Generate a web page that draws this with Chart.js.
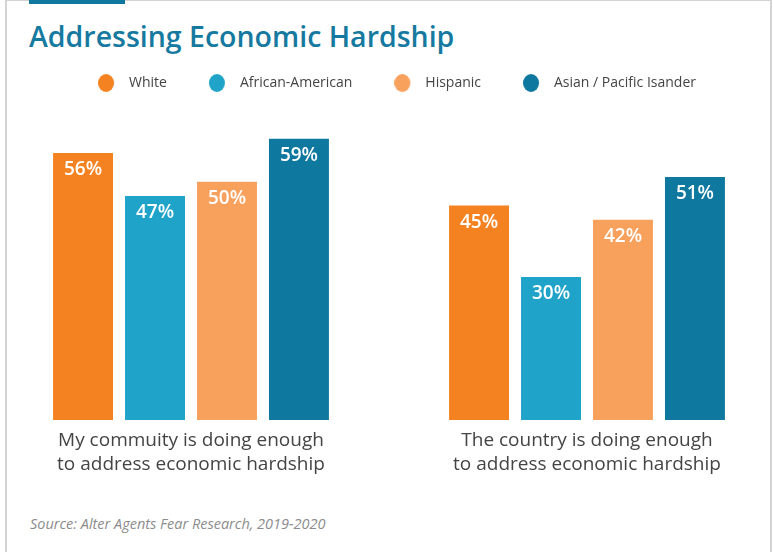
<!DOCTYPE html>
<html>
<head>
<meta charset="utf-8">
<script src="https://cdn.jsdelivr.net/npm/chart.js@4.4.1/dist/chart.umd.min.js"></script>
<style>
  html, body { margin: 0; padding: 0; background: #fff; }
  body { width: 773px; height: 552px; position: relative; overflow: hidden; font-family: 'Open Sans', sans-serif; }
  .frame { position: absolute; left: 5px; top: 0; width: 767px; height: 600px; border: 2px solid #d3d3d3; border-top-width: 1px; box-sizing: border-box; pointer-events: none; z-index: 2; }
  .accent { position: absolute; left: 29px; top: 0; width: 96px; height: 4px; background: #0f789f; z-index: 3; }
  h1 { position: absolute; left: 29px; top: 22px; margin: 0; line-height: 1; font-size: 28.5px; font-weight: 600; color: #16799f; white-space: nowrap; }
  #wrap { position: absolute; left: -7px; top: 0; width: 792px; height: 478px; }
  .source { position: absolute; left: 30px; top: 514px; font-style: italic; font-size: 14.5px; color: #8c8c8c; white-space: nowrap; }
</style>
</head>
<body>
<div class="frame"></div>
<div class="accent"></div>
<h1>Addressing Economic Hardship</h1>
<div id="wrap"><canvas id="hardship" width="792" height="478"></canvas></div>
<div class="source">Source: Alter Agents Fear Research, 2019-2020</div>

<script>
// survey questions (two lines each under the bars)
const questions = [
  ['My commuity is doing enough', 'to address economic hardship'],
  ['The country is doing enough', 'to address economic hardship']
];
const groups = ['White', 'African-American', 'Hispanic', 'Asian / Pacific Isander'];
const groupColors = ['#f58220', '#1fa3c9', '#f8a15d', '#0e789f'];

// % agreeing, per group, one value per question
const white    = [56, 45];
const african  = [47, 30];
const hispanic = [50, 42];
const asian    = [59, 51];

const FONT = "'Open Sans', sans-serif";

// legend dot: circle on the left of a wider transparent box so text sits further right
function dot(color) {
  const c = document.createElement('canvas');
  c.width = 24; c.height = 18;
  const g = c.getContext('2d');
  g.fillStyle = color;
  g.beginPath();
  g.ellipse(8, 9, 8, 9, 0, 0, Math.PI * 2);
  g.fill();
  return c;
}
const dots = groupColors.map(dot);

// extra room under the legend, and nudge it a bit to the right
const legendSpacing = {
  id: 'legendSpacing',
  beforeInit(chart) {
    const fit = chart.legend.fit;
    chart.legend.fit = function () {
      fit.bind(chart.legend)();
      this.height += 34;
    };
  },
  afterLayout(chart) {
    chart.legend.left += 8;
    chart.legend.right += 8;
  }
};

// white % labels just inside the top of each bar
const valueLabels = {
  id: 'valueLabels',
  afterDatasetsDraw(chart) {
    const ctx = chart.ctx;
    ctx.save();
    ctx.fillStyle = '#fff';
    ctx.font = `600 19px ${FONT}`;
    ctx.textAlign = 'center';
    ctx.textBaseline = 'middle';
    chart.data.datasets.forEach((ds, i) => {
      chart.getDatasetMeta(i).data.forEach((bar, j) => {
        ctx.fillText(ds.data[j] + '%', bar.x, bar.y + 17);
      });
    });
    ctx.restore();
  }
};

const series = [white, african, hispanic, asian];

new Chart(document.getElementById('hardship'), {
  type: 'bar',
  data: {
    labels: questions,
    datasets: groups.map((g, i) => ({
      label: g,
      data: series[i],
      backgroundColor: groupColors[i],
      borderWidth: 0,
      categoryPercentage: 0.727,
      barPercentage: 0.833
    }))
  },
  options: {
    responsive: false,
    animation: false,
    layout: { padding: { top: 34, bottom: 0, left: 0, right: 0 } },
    scales: {
      x: {
        grid: { display: false },
        border: { display: false },
        ticks: { color: '#444', font: { family: FONT, size: 19, lineHeight: 1.26 }, padding: 1 }
      },
      y: { display: false, min: 0, max: 60 }
    },
    plugins: {
      legend: {
        position: 'top',
        labels: {
          usePointStyle: true,
          pointStyleWidth: 24,
          boxHeight: 18,
          padding: 42,
          color: '#444',
          font: { family: FONT, size: 14 },
          generateLabels(chart) {
            return Chart.defaults.plugins.legend.labels.generateLabels(chart)
              .map((item, i) => Object.assign(item, { pointStyle: dots[i] }));
          }
        }
      },
      tooltip: { enabled: false },
      title: { display: false }
    }
  },
  plugins: [legendSpacing, valueLabels]
});
</script>
</body>
</html>
